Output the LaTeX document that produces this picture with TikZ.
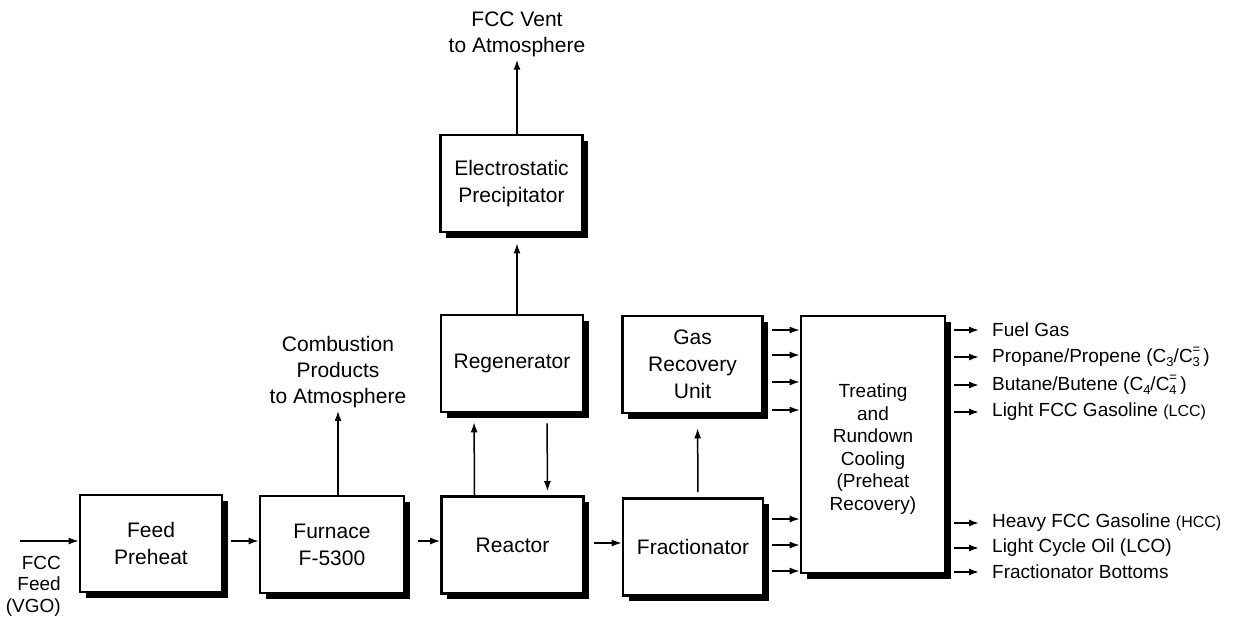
\documentclass[tikz,border=0pt]{standalone}
\usepackage{fontspec}
\setmainfont{Liberation Sans}
\usetikzlibrary{arrows.meta,shadows}
\newcommand{\supsub}[1]{\rlap{\raisebox{-4.5pt}{\fontsize{13}{13}\selectfont #1}}\raisebox{8.5pt}{\fontsize{13}{13}\selectfont =}\,}
\newcommand{\sbs}[1]{\raisebox{-4.5pt}{\fontsize{13}{13}\selectfont #1}}
\begin{document}
\begin{tikzpicture}[x=1pt,y=-1pt,
  box/.style={draw,line width=2.6pt,fill=white,minimum width=142pt,minimum height=97pt,
    align=center,inner sep=0pt,font=\fontsize{21}{27}\selectfont,
    drop shadow={shadow xshift=5.5pt,shadow yshift=-5.5pt,fill=black,opacity=1}},
  arr/.style={line width=1.5pt,-{Latex[length=10pt,width=7pt]}},
  lbl/.style={align=center,inner sep=0pt,font=\fontsize{21}{26}\selectfont},
  outl/.style={anchor=west,inner sep=0pt,font=\fontsize{19}{22}\selectfont}]
\useasboundingbox (0,0) rectangle (1246,622);
% boxes
\node[box] (pre) at (151,543.5) {Feed\\Preheat};
\node[box,minimum width=144pt] (fur) at (332,544.5) {Furnace\\F-5300};
\node[box] (rea) at (512.5,545) {Reactor};
\node[box,minimum width=140pt] (fra) at (693,547) {Fractionator};
\node[box] (reg) at (512,363.5) {Regenerator};
\node[box,minimum width=140pt] (gas) at (692.5,364.5) {Gas\\Recovery\\Unit};
\node[box] (esp) at (511.5,183.5) {Electrostatic\\Precipitator};
\node[box,minimum width=144pt,minimum height=257pt] (tre) at (873,444.5) {};
\node[align=center,inner sep=0pt,font=\fontsize{19}{22.5}\selectfont] (tretext) at (873,449)
  {Treating\\and\\Rundown\\Cooling\\(Preheat\\Recovery)};
% labels
\node[lbl] (vent) at (517,34) {FCC Vent\\to Atmosphere};
\node[lbl] (comb) at (338,372) {Combustion\\Products\\to Atmosphere};
\node[anchor=east,align=right,inner sep=0pt,font=\fontsize{19}{21.5}\selectfont] (feed) at (61,586) {FCC\\Feed\\(VGO)};
\coordinate (fin) at (20,541);
% outputs
\node[outl] (o1) at (992,330) {Fuel Gas};
\node[outl] (o2) at (992,357) {Propane/Propene (C\sbs{3}/C\supsub{3})};
\node[outl] (o3) at (992,385) {Butane/Butene (C\sbs{4}/C\supsub{4})};
\node[outl] (o4) at (992,412) {Light FCC Gasoline {\fontsize{16}{18}\selectfont(LCC)}};
\node[outl] (o5) at (992,523) {Heavy FCC Gasoline {\fontsize{16}{18}\selectfont(HCC)}};
\node[outl] (o6) at (992,548) {Light Cycle Oil (LCO)};
\node[outl] (o7) at (992,572) {Fractionator Bottoms};
\foreach \o in {o1,o2,o3,o4,o5,o6,o7}
  \draw[arr,shorten <=8pt,shorten >=13pt] (tre.east |- \o.west) -- (\o.west);
% inputs to treating
\foreach \yy in {330,355,382,410}
  \draw[arr,shorten <=8pt] (gas.east |- 0,\yy) -- (tre.west |- 0,\yy);
\foreach \yy in {519,545,571}
  \draw[arr,shorten <=8pt] (fra.east |- 0,\yy) -- (tre.west |- 0,\yy);
% main flow
\draw[arr] (fin) -- (pre.west |- fin);
\draw[arr,shorten <=8pt] (pre.east |- fin) -- (fur.west |- fin);
\draw[arr,shorten <=13pt] (fur.east |- fin) -- (rea.west |- fin);
\draw[arr,shorten <=9pt] (rea.east |- 0,543) -- (fra.west |- 0,543);
\draw[arr,shorten >=3pt] (comb.south |- fur.north) -- (comb.south);
\draw[arr,shorten >=9pt] ([xshift=-38pt]rea.north) -- ([xshift=-38pt]reg.south);
\draw[arr,shorten <=10pt,shorten >=4pt] ([xshift=35pt]reg.south) -- ([xshift=35pt]rea.north);
\draw[arr,shorten <=5pt,shorten >=14pt] ([xshift=5pt]fra.north) -- ([xshift=5pt]gas.south);
\draw[arr,shorten >=10pt] (vent.south |- reg.north) -- (vent.south |- esp.south);
\draw[arr,shorten >=3pt] (vent.south |- esp.north) -- (vent.south);
\end{tikzpicture}
\end{document}
